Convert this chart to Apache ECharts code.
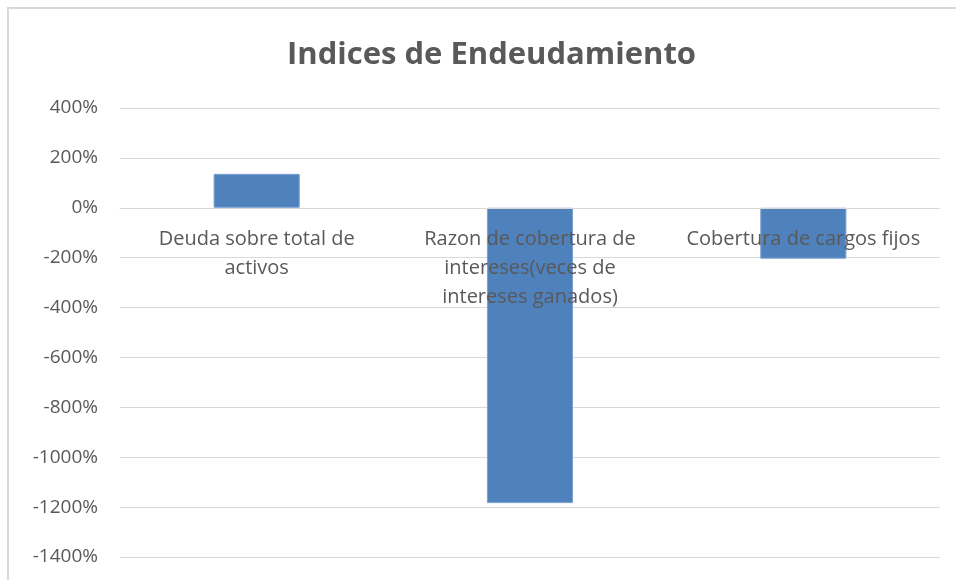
<!DOCTYPE html>
<html>
<head>
<meta charset="utf-8">
<script src="https://cdn.jsdelivr.net/npm/echarts@6/dist/echarts.min.js"></script>
<style>
  html, body { margin: 0; padding: 0; background: #fff; }
  #chart { width: 956px; height: 580px; }
</style>
</head>
<body>
<div id="chart"></div>
<script>
// categorias (con saltos de linea como en el original)
const categorias = [
  "Deuda sobre total de\nactivos",
  "Razon de cobertura de\nintereses(veces de\nintereses ganados)",
  "Cobertura de cargos fijos"
];
// valores en %
const valores = [136, -1184, -204];
const yMin = -1400, yMax = 400, yPaso = 200;

const gridTop = 108, gridBottom = 23, alto = 580;
// el eje x se coloca en la linea del 0%
const altoPlot = alto - gridTop - gridBottom;
const offsetCero = -altoPlot * (0 - yMin) / (yMax - yMin);

const myChart = echarts.init(document.getElementById("chart"));
myChart.setOption({
  animation: false,
  textStyle: { fontFamily: "Open Sans" },
  title: {
    text: "Indices de Endeudamiento",
    left: 282,
    top: 35,
    textStyle: { fontSize: 31, fontWeight: "bold", color: "#595959", fontFamily: "Open Sans" }
  },
  // borde del area del grafico
  graphic: [{
    type: "rect",
    shape: { x: 8, y: 8, width: 980, height: 620 },
    style: { fill: "none", stroke: "#d9d9d9", lineWidth: 2 },
    silent: true
  }],
  grid: { left: 120, right: 16, top: gridTop, bottom: gridBottom, outerBoundsMode: "none" },
  xAxis: {
    type: "category",
    data: categorias,
    position: "bottom",
    offset: offsetCero,
    z: 10,
    axisLine: { onZero: false, lineStyle: { color: "#d9d9d9" } },
    axisTick: { show: false },
    axisLabel: {
      color: "#595959",
      fontSize: 20,
      lineHeight: 29,
      margin: 17,
      interval: 0
    }
  },
  yAxis: {
    type: "value",
    min: yMin,
    max: yMax,
    interval: yPaso,
    axisLine: { show: false },
    axisTick: { show: false },
    axisLabel: {
      color: "#595959",
      fontSize: 19,
      margin: 22,
      formatter: v => v + "%"
    },
    splitLine: { lineStyle: { color: "#d9d9d9", width: 1 } }
  },
  series: [{
    type: "bar",
    data: valores,
    barWidth: "31.5%",
    itemStyle: { color: "#4F81BD", borderColor: "#7ba0d0", borderWidth: 1 }
  }]
});
</script>
</body>
</html>
